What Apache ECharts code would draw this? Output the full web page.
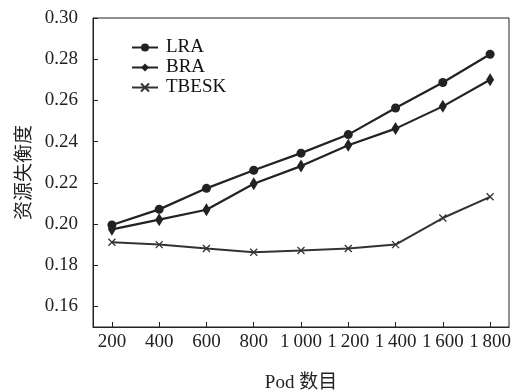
<!DOCTYPE html>
<html><head><meta charset="utf-8">
<script src="https://cdn.jsdelivr.net/npm/echarts@6/dist/echarts.min.js"></script>
<style>html,body{margin:0;padding:0;background:#fff}#c{width:522px;height:392px}</style>
</head><body><div id="c"></div>
<script>
const podCounts = [200, 400, 600, 800, 1000, 1200, 1400, 1600, 1800];
const lra   = [0.1995, 0.2071, 0.2173, 0.2261, 0.2344, 0.2434, 0.2563, 0.2687, 0.2824];
const bra   = [0.1974, 0.2021, 0.2069, 0.2195, 0.2281, 0.2382, 0.2463, 0.2571, 0.2700];
const tbesk = [0.1911, 0.1900, 0.1881, 0.1863, 0.1871, 0.1881, 0.1900, 0.2029, 0.2132];
const yTicks = [0.16, 0.18, 0.20, 0.22, 0.24, 0.26, 0.28, 0.30];
const seriesNames = ['LRA', 'BRA', 'TBESK'];

const serif = '"Liberation Serif", "Times New Roman", "Noto Sans CJK SC", serif';
const toPairs = arr => podCounts.map((x, i) => [x, arr[i]]);
const chart = echarts.init(document.getElementById('c'));
chart.setOption({
  backgroundColor: '#fff',
  animation: false,
  grid: { left: 93, right: 13, top: 18, bottom: 65, show: true, borderColor: '#222', borderWidth: 1,
          containLabel: false, outerBoundsMode: 'none' },
  legend: {
    left: 126, top: 33, orient: 'vertical', itemGap: 1, itemWidth: 26, itemHeight: 10,
    data: seriesNames,
    textStyle: { fontFamily: serif, fontSize: 19, color: '#111', padding: [0, 0, 0, 3] }
  },
  xAxis: {
    type: 'value', min: 120, max: 1880,
    name: 'Pod 数目', nameLocation: 'middle', nameGap: 47,
    nameTextStyle: { fontFamily: serif, fontSize: 19, color: '#222' },
    axisLine: { show: true, lineStyle: { color: '#222', width: 1 } },
    axisTick: { show: true, inside: true, length: 5, customValues: podCounts, lineStyle: { color: '#222' } },
    axisLabel: {
      customValues: podCounts, margin: 6, fontFamily: serif, fontSize: 19, color: '#222',
      formatter: v => v >= 1000 ? Math.floor(v / 1000) + '\u2009' + String(v % 1000).padStart(3, '0') : String(v)
    },
    splitLine: { show: false }
  },
  yAxis: {
    type: 'value', min: 0.15, max: 0.30,
    name: '资源失衡度', nameLocation: 'middle', nameGap: 61,
    nameTextStyle: { fontFamily: '"Noto Sans CJK SC", serif', fontSize: 19, color: '#222' },
    axisLine: { show: true, lineStyle: { color: '#222', width: 1 } },
    axisTick: { show: true, inside: true, length: 5, customValues: yTicks, lineStyle: { color: '#222' } },
    axisLabel: {
      customValues: yTicks, margin: 15, fontFamily: serif, fontSize: 19, color: '#222',
      formatter: v => v.toFixed(2)
    },
    splitLine: { show: false }
  },
  series: [
    { name: 'LRA', type: 'line', data: toPairs(lra), symbol: 'circle', symbolSize: 9,
      lineStyle: { color: '#222', width: 2.2 }, itemStyle: { color: '#222' } },
    { name: 'BRA', type: 'line', data: toPairs(bra), symbol: 'diamond', symbolSize: [8, 13],
      lineStyle: { color: '#222', width: 2.2 }, itemStyle: { color: '#222' } },
    { name: 'TBESK', type: 'line', data: toPairs(tbesk), symbol: 'path://M0,0L10,10M10,0L0,10', symbolSize: 7,
      lineStyle: { color: '#333', width: 2 }, itemStyle: { color: 'none', borderColor: '#333', borderWidth: 1.3 } }
  ]
});
</script></body></html>
